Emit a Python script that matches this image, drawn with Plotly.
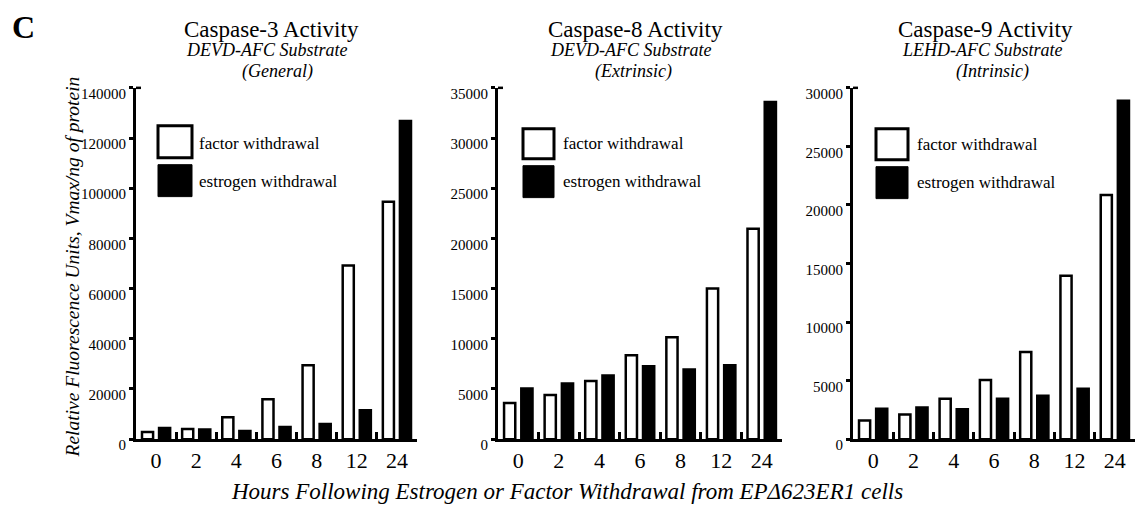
import plotly.graph_objects as go

# Hours after withdrawal (category labels on the x axes)
hours = ["0", "2", "4", "6", "8", "12", "24"]

# Caspase-3 activity (DEVD-AFC substrate)
casp3_factor = [2800, 4000, 8700, 15900, 29400, 69200, 94600]
casp3_estrogen = [4400, 3800, 3200, 4800, 6000, 11500, 126800]

# Caspase-8 activity (DEVD-AFC substrate)
casp8_factor = [3600, 4400, 5800, 8350, 10150, 15000, 20950]
casp8_estrogen = [5050, 5550, 6350, 7250, 6950, 7350, 33600]

# Caspase-9 activity (LEHD-AFC substrate)
casp9_factor = [1600, 2100, 3450, 5050, 7450, 13950, 20850]
casp9_estrogen = [2600, 2700, 2550, 3450, 3700, 4300, 28900]

panel_titles = ["Caspase-3 Activity", "Caspase-8 Activity", "Caspase-9 Activity"]
panel_substrates = ["DEVD-AFC Substrate", "DEVD-AFC Substrate", "LEHD-AFC Substrate"]
panel_pathways = ["(General)", "(Extrinsic)", "(Intrinsic)"]
y_max = [140000, 35000, 30000]
y_step = [20000, 5000, 5000]

series_names = ["factor withdrawal", "estrogen withdrawal"]

# layout grid is laid out on a 1139 x 508 sheet
W, H = 1139, 508
FIG_H = 523
SERIF = "Liberation Serif"


def px(x):
    return x / W


def py(y):
    return 1 - y / H


# plot-area extents (sheet pixels) for the three panels
x_spans = [(136, 417), (498, 782), (853, 1135)]
y_top, y_bottom = 86, 438

fig = go.Figure()

data = [
    (casp3_factor, casp3_estrogen),
    (casp8_factor, casp8_estrogen),
    (casp9_factor, casp9_estrogen),
]

for i, (fac, est) in enumerate(data):
    xa = "x" if i == 0 else f"x{i+1}"
    ya = "y" if i == 0 else f"y{i+1}"
    fig.add_trace(go.Bar(
        x=hours, y=fac, name=series_names[0], xaxis=xa, yaxis=ya,
        marker=dict(color="white", line=dict(color="black", width=2.5)),
        showlegend=False,
    ))
    fig.add_trace(go.Bar(
        x=hours, y=est, name=series_names[1], xaxis=xa, yaxis=ya,
        marker=dict(color="black", line=dict(color="black", width=2.5)),
        showlegend=False,
    ))

layout = dict(
    width=W, height=FIG_H, autosize=False,
    margin=dict(l=0, r=0, t=0, b=0, pad=0),
    paper_bgcolor="white", plot_bgcolor="white",
    barmode="group", bargap=0.15, bargroupgap=0.35,
    font=dict(family=SERIF, color="black"),
)

for i in range(3):
    sx = "" if i == 0 else str(i + 1)
    x0, x1 = x_spans[i]
    layout[f"xaxis{sx}"] = dict(
        type="category", domain=[px(x0), px(x1)],
        anchor=f"y{sx}", range=[-0.5, 6.5],
        showline=True, linecolor="black", linewidth=2.5,
        ticks="inside", tickson="boundaries", ticklen=7, tickwidth=2.5,
        tickcolor="black", showgrid=False, zeroline=False,
        tickfont=dict(family=SERIF, size=22, color="black"),
        fixedrange=True,
    )
    layout[f"yaxis{sx}"] = dict(
        domain=[py(y_bottom), py(y_top)], anchor=f"x{sx}",
        range=[0, y_max[i]], dtick=y_step[i], tick0=0, tickformat="d",
        showline=True, linecolor="black", linewidth=3,
        ticks="outside", ticklen=4, tickwidth=2.5, tickcolor="black",
        showgrid=False, zeroline=False,
        tickfont=dict(family=SERIF, size=15, color="black"),
        ticklabelshift=6,
        fixedrange=True,
    )

fig.update_layout(**layout)

shapes = []
annotations = []

# hook at the top of each value axis
for i, (x0, x1) in enumerate(x_spans):
    shapes.append(dict(type="line", xref="paper", yref="paper",
                       x0=px(x0), x1=px(x0 + 5), y0=py(y_top), y1=py(y_top),
                       line=dict(color="black", width=2.5)))

# per-panel key: outlined square for factor, filled square for estrogen
keys = [
    dict(sx=(158, 192), white=(124, 156), black=(163, 195), tx=197, ty=(142, 180)),
    dict(sx=(523, 554), white=(127, 157), black=(164, 196), tx=561, ty=(142, 180)),
    dict(sx=(876, 908), white=(127, 158), black=(165, 197), tx=915, ty=(143, 181)),
]
for k in keys:
    shapes.append(dict(type="rect", xref="paper", yref="paper",
                       x0=px(k["sx"][0]), x1=px(k["sx"][1]),
                       y0=py(k["white"][1]), y1=py(k["white"][0]),
                       fillcolor="white", line=dict(color="black", width=3)))
    shapes.append(dict(type="rect", xref="paper", yref="paper",
                       x0=px(k["sx"][0]), x1=px(k["sx"][1]),
                       y0=py(k["black"][1]), y1=py(k["black"][0]),
                       fillcolor="black", line=dict(color="black", width=1)))
    for name, ty in zip(series_names, k["ty"]):
        annotations.append(dict(text=name, xref="paper", yref="paper",
                                x=px(k["tx"]), y=py(ty), xanchor="left",
                                yanchor="middle", showarrow=False,
                                font=dict(family=SERIF, size=17, color="black")))

# panel headings
heading_x = [(271, 266, 277), (635, 630, 634), (985, 982, 992)]
for i in range(3):
    hx = heading_x[i]
    annotations.append(dict(text=panel_titles[i], xref="paper", yref="paper",
                            x=px(hx[0]), y=py(28), xanchor="center", yanchor="middle",
                            showarrow=False, font=dict(family=SERIF, size=23)))
    annotations.append(dict(text=f"<i>{panel_substrates[i]}</i>", xref="paper", yref="paper",
                            x=px(hx[1]), y=py(48), xanchor="center", yanchor="middle",
                            showarrow=False, font=dict(family=SERIF, size=18)))
    annotations.append(dict(text=f"<i>{panel_pathways[i]}</i>", xref="paper", yref="paper",
                            x=px(hx[2]), y=py(70), xanchor="center", yanchor="middle",
                            showarrow=False, font=dict(family=SERIF, size=18)))

# figure letter
annotations.append(dict(text="<b>C</b>", xref="paper", yref="paper",
                        x=px(23), y=py(25), xanchor="center", yanchor="middle",
                        showarrow=False, font=dict(family=SERIF, size=32)))

# shared axis titles
annotations.append(dict(text="<i>Relative Fluorescence Units, Vmax/ng of protein</i>",
                        xref="paper", yref="paper", x=px(72), y=py(266),
                        xanchor="center", yanchor="middle", textangle=-90,
                        showarrow=False, font=dict(family=SERIF, size=19.5)))
annotations.append(dict(text="<i>Hours Following Estrogen or Factor Withdrawal from EPΔ623ER1 cells</i>",
                        xref="paper", yref="paper", x=px(567), y=py(490),
                        xanchor="center", yanchor="middle",
                        showarrow=False, font=dict(family=SERIF, size=23)))

fig.update_layout(shapes=shapes, annotations=annotations)

fig.write_html("out.html", config={"responsive": False})
